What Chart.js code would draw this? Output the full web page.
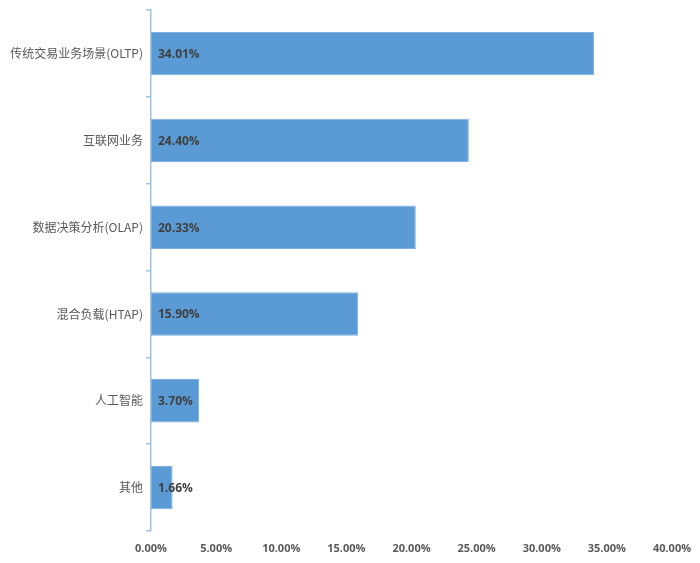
<!DOCTYPE html>
<html>
<head>
<meta charset="utf-8">
<script src="https://cdn.jsdelivr.net/npm/chart.js@4"></script>
<style>
  body { margin: 0; background: #fff; }
  .wrap { width: 700px; height: 563px; position: relative; }
</style>
</head>
<body>
<div class="wrap"><canvas id="plot"></canvas></div>
<script>
const categories = ['传统交易业务场景(OLTP)', '互联网业务', '数据决策分析(OLAP)', '混合负载(HTAP)', '人工智能', '其他'];
const shares = [34.01, 24.40, 20.33, 15.90, 3.70, 1.66];

const axisBlue = '#9dc3e6';

// labels drawn inside the bars, next to the base
const barLabels = {
  id: 'barLabels',
  afterDatasetsDraw(chart) {
    const { ctx } = chart;
    const meta = chart.getDatasetMeta(0);
    ctx.save();
    ctx.font = 'bold 12px "Open Sans", "Liberation Sans", sans-serif';
    ctx.fillStyle = '#404040';
    ctx.textAlign = 'left';
    ctx.textBaseline = 'middle';
    meta.data.forEach((bar, i) => {
      ctx.fillText(shares[i].toFixed(2) + '%', bar.base + 7, bar.y + 1);
    });
    ctx.restore();
  },
};

new Chart(document.getElementById('plot'), {
  type: 'bar',
  data: {
    labels: categories,
    datasets: [
      {
        data: shares,
        backgroundColor: '#5b9bd5',
        borderColor: '#7fb0e0',
        borderWidth: 1,
        borderSkipped: false,
        barPercentage: 0.5,
        categoryPercentage: 1,
      },
    ],
  },
  options: {
    indexAxis: 'y',
    responsive: true,
    maintainAspectRatio: false,
    animation: false,
    layout: { padding: { top: 7, right: 28, left: 0, bottom: 0 } },
    plugins: {
      legend: { display: false },
      tooltip: { enabled: false },
    },
    scales: {
      x: {
        min: 0,
        max: 40,
        grid: { display: false },
        border: { display: false },
        afterFit: (scale) => { scale.height = 32; },
        ticks: {
          stepSize: 5,
          padding: 3,
          color: '#595959',
          font: { family: '"Open Sans", "Liberation Sans", sans-serif', size: 11, weight: 'bold' },
          callback: (v) => v.toFixed(2) + '%',
        },
      },
      y: {
        afterFit: (scale) => { scale.width = 151; },
        grid: {
          drawOnChartArea: false,
          offset: true,
          tickLength: 5,
          color: axisBlue,
          lineWidth: 1.5,
        },
        border: { color: axisBlue, width: 1.5 },
        ticks: {
          padding: 3,
          color: '#595959',
          font: { family: '"Noto Sans CJK SC", "Noto Sans", sans-serif', size: 12 },
        },
      },
    },
  },
  plugins: [barLabels],
});
</script>
</body>
</html>
